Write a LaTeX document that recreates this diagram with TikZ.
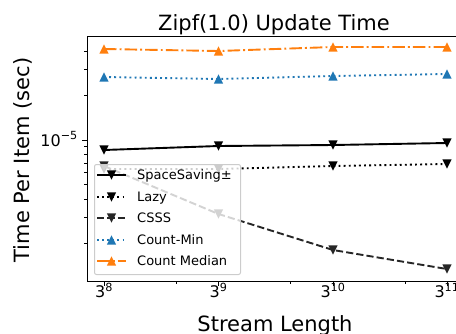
\documentclass[tikz,border=0pt]{standalone}
\usepackage{fontspec}
\setmainfont{DejaVu Sans}
\definecolor{mplblue}{HTML}{1F77B4}
\definecolor{mplorange}{HTML}{FF7F0E}
\definecolor{legedge}{HTML}{CCCCCC}
\tikzset{
  ser-ss/.style={black, line width=1.9pt},
  ser-lazy/.style={black, line width=1.9pt, dash pattern=on 1.9pt off 3.2pt},
  ser-csss/.style={black!85, line width=1.9pt, dash pattern=on 7.2pt off 3.1pt},
  ser-cmin/.style={mplblue, line width=1.9pt, dash pattern=on 1.9pt off 3.2pt},
  ser-med/.style={mplorange, line width=1.9pt, dash pattern=on 12.5pt off 3.1pt on 1.9pt off 3.1pt},
  pics/tri/.style={code={\fill (0,-4.6) -- (-4.6,4.6) -- (4.6,4.6) -- cycle;}},
  majtick/.style={line width=1pt},
  mintick/.style={line width=0.8pt},
  ticklbl/.style={font=\fontsize{16}{16}\selectfont, inner sep=0pt},
  axlbl/.style={font=\fontsize{21}{21}\selectfont, inner sep=0pt, anchor=base},
  legtext/.style={font=\fontsize{13}{13}\selectfont, inner sep=0pt, anchor=base west},
}
\begin{document}
\begin{tikzpicture}[x=1pt,y=-1pt]
  \useasboundingbox (0,0) rectangle (456,333);
  \clip (0,0) rectangle (456,333);
  % data, in pixel rows
  \foreach \s/\ya/\yb/\yc/\yd in {ss/150/146/145/143, lazy/169/169/166/164,
      csss/166/214/250/269, cmin/77/79/76/74, med/49/51/47/47}{
    \coordinate (\s1) at (104,\ya);
    \coordinate (\s2) at (218.5,\yb);
    \coordinate (\s3) at (333,\yc);
    \coordinate (\s4) at (447,\yd);
  }
  \foreach \s/\r in {ss/180, lazy/180, csss/180, cmin/0, med/0}{
    \draw[ser-\s] (\s1) -- (\s2) -- (\s3) -- (\s4);
    \foreach \i in {1,...,4}
      \pic[ser-\s, rotate=\r] at (\s\i) {tri};
  }
  % axes
  \draw[line width=1pt] (464,36) -- (87,36) -- (87,281) -- (464,281);
  \foreach \k/\x in {8/104, 9/218.5, 10/333, 11/447}{
    \draw[majtick] (\x,281) -- ++(0,4.6);
    \node[ticklbl, anchor=base] (xt\k) at (\x,297.5) {3\textsuperscript{\k}};
  }
  \foreach \x in {176,290.5,405}
    \draw[mintick] (\x,281) -- ++(0,2.6);
  \draw[majtick] (87,140) -- ++(-4.6,0);
  \node[ticklbl, anchor=base east] (yt) at (78,146) {10\textsuperscript{−5}};
  \foreach \m in {2,...,9}
    \draw[mintick] (87,{288-148*log10(\m)}) -- ++(-2.6,0);
  \foreach \m in {2,3,4}
    \draw[mintick] (87,{140-148*log10(\m)}) -- ++(-2.6,0);
  % legend
  \node[draw=legedge, fill=white, fill opacity=0.8, rounded corners=2pt,
    line width=1pt, minimum width=146pt, minimum height=110pt,
    anchor=north west, inner sep=0pt] (legend) at (94,164) {};
  \foreach \s/\r/\t/\y in {ss/180/SpaceSaving±/175, lazy/180/Lazy/197,
      csss/180/CSSS/218, cmin/0/Count-Min/240, med/0/Count Median/261}{
    \draw[ser-\s] (97,\y) -- (126,\y);
    \pic[ser-\s, rotate=\r] at (111.5,\y) {tri};
    \node[legtext] (lg\s) at (137,{\y+4.7}) {\t};
  }
  % labels
  \node[axlbl] (title) at (274,30) {Zipf(1.0) Update Time};
  \node[axlbl] (xlab) at (275,331) {Stream Length};
  \node[axlbl, rotate=90] (ylab) at (30,160) {Time Per Item (sec)};
\end{tikzpicture}
\end{document}
